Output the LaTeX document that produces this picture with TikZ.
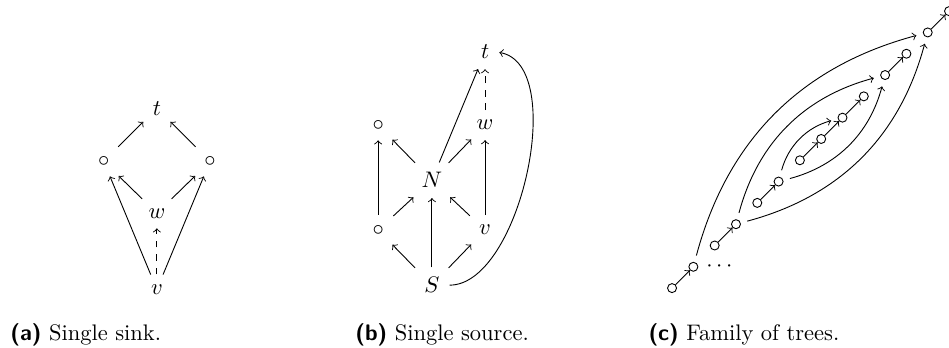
\documentclass[tikz,border=0pt]{standalone}
\usepackage{amsmath}
\usepackage{tikz}
\usetikzlibrary{positioning}
\tikzset{
  arc_edge/.style = {->, shorten >=1pt, shorten <=1pt},% arete simple
  dash_edge/.style = {arc_edge, dashed},% arete en pointilles
  tree_node/.style = {circle, draw=black, inner sep=0pt,
    minimum size=4pt},% sommet d'un arbre
  tree_edge/.style = {->},
  tree_arc/.style = {->, shorten >=3pt, shorten <=3pt},% grand arc
  cap_node/.style = {anchor=base west, inner sep=0pt}
}
\newcommand{\sublabel}[1]{\textsf{\textbf{(#1)}}}

\begin{document}
\begin{tikzpicture}
    \useasboundingbox (0,0) rectangle (14.82,5.42);
    % (a) single sink
    \begin{scope}[shift={(2.45,3.73)}]
      \node (ta) at (0,0) {$t$};
      \node (la) at (-0.83,-0.83) {$\circ$};
      \node (ra) at (0.83,-0.83) {$\circ$};
      \node (wa) at (0,-1.64) {$w$};
      \node (va) at (0,-2.83) {$v$};
      \draw[arc_edge] (la) -- (ta);
      \draw[arc_edge] (ra) -- (ta);
      \draw[arc_edge] (wa) -- (la);
      \draw[arc_edge] (wa) -- (ra);
      \draw[arc_edge] (va) -- (la);
      \draw[arc_edge] (va) -- (ra);
      \draw[dash_edge] (va) -- (wa);
    \end{scope}
    % (b) single source
    \begin{scope}[shift={(7.575,4.607)}]
      \node (tb) at (0,0) {$t$};
      \node (ub) at (-1.67,-1.14) {$\circ$};
      \node (wb) at (0,-1.14) {$w$};
      \node (nb) at (-0.83,-2.0) {$N$};
      \node (lb) at (-1.67,-2.78) {$\circ$};
      \node (vb) at (0,-2.78) {$v$};
      \node (sb) at (-0.83,-3.64) {$S$};
      \draw[arc_edge] (sb) -- (lb);
      \draw[arc_edge] (sb) -- (nb);
      \draw[arc_edge] (sb) -- (vb);
      \draw[arc_edge] (lb) -- (nb);
      \draw[arc_edge] (vb) -- (nb);
      \draw[arc_edge] (lb) -- (ub);
      \draw[arc_edge] (vb) -- (wb);
      \draw[arc_edge] (nb) -- (ub);
      \draw[arc_edge] (nb) -- (wb);
      \draw[arc_edge] (nb) -- (tb);
      \draw[dash_edge] (wb) -- (tb);
      \draw[arc_edge] (sb.east) to[out=0, in=-10, looseness=0.78] (tb.east);
    \end{scope}
    % (c) family of trees
    \begin{scope}[shift={(10.495,0.921)}, x=0.3327cm, y=0.3327cm]
      \node[tree_node] (c0) at (0,0) {};
      \node[tree_node] (c1) at (1,1) {};
      \node[tree_node] (c2) at (2,2) {};
      \node[tree_node] (c3) at (3,3) {};
      \node[tree_node] (c4) at (4,4) {};
      \node[tree_node] (c5) at (5,5) {};
      \node[tree_node] (c6) at (6,6) {};
      \node[tree_node] (c7) at (7,7) {};
      \node[tree_node] (c8) at (8,8) {};
      \node[tree_node] (c9) at (9,9) {};
      \node[tree_node] (c10) at (10,10) {};
      \node[tree_node] (c11) at (11,11) {};
      \node[tree_node] (c12) at (12,12) {};
      \node[tree_node] (c13) at (13,13) {};
      \node (dots) [right=0pt of c1] {$\cdots$};
      \draw[tree_edge] (c0) -- (c1);
      \draw[tree_edge] (c2) -- (c3);
      \draw[tree_edge] (c4) -- (c5);
      \draw[tree_edge] (c6) -- (c7);
      \draw[tree_edge] (c7) -- (c8);
      \draw[tree_edge] (c8) -- (c9);
      \draw[tree_edge] (c10) -- (c11);
      \draw[tree_edge] (c12) -- (c13);
      \draw[tree_arc] (c1) to[bend left=30] (c12);
      \draw[tree_arc] (c3) to[bend right=30] (c12);
      \draw[tree_arc] (c3) to[bend left=30] (c10);
      \draw[tree_arc] (c5) to[bend right=30] (c10);
      \draw[tree_arc] (c5) to[bend left=30] (c8);
    \end{scope}
    % captions
    \node[cap_node] (capa) at (0.156,0.109) {\sublabel{a} Single sink.};
    \node[cap_node] (capb) at (5.544,0.109) {\sublabel{b} Single source.};
    \node[cap_node] (capc) at (10.12,0.109) {\sublabel{c} Family of trees.};
\end{tikzpicture}
\end{document}
